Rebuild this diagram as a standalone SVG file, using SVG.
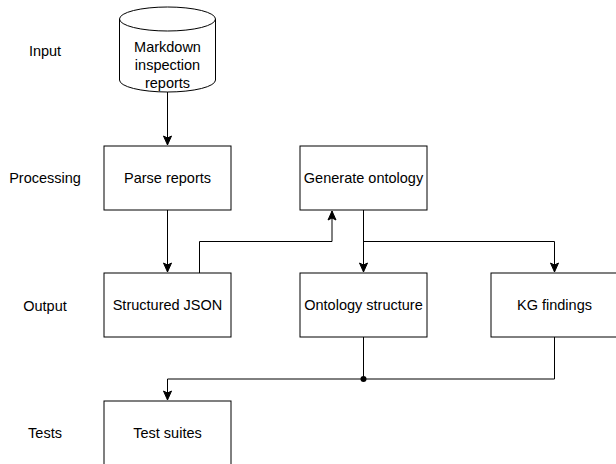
<svg xmlns="http://www.w3.org/2000/svg" width="616" height="464" viewBox="0 0 616 464">
<defs>
<style>
.box{fill:#fff;stroke:#000;stroke-width:1}
.t{font-family:"Liberation Sans",Arial,Helvetica,sans-serif;font-size:14.5px;fill:#000;text-anchor:middle}
.c{fill:none;stroke:#000;stroke-width:1}
</style>
<marker id="arr" markerUnits="userSpaceOnUse" markerWidth="12" markerHeight="12" viewBox="0 0 12 12" refX="10" refY="6" orient="auto">
<path d="M1,2 L10,6 L1,10 L3,6 Z" fill="#000" stroke="#000" stroke-width="1"/>
</marker>
</defs>
<rect width="616" height="464" fill="#fff"/>
<g id="labels">
<text class="t" x="45" y="56">Input</text>
<text class="t" x="45" y="183">Processing</text>
<text class="t" x="45" y="311">Output</text>
<text class="t" x="45" y="438">Tests</text>
</g>
<g id="connectors">
<path class="c" d="M167.5 92 V145" marker-end="url(#arr)"/>
<path class="c" d="M167.5 210 V272" marker-end="url(#arr)"/>
<path class="c" d="M199.5 273 V241.5 H332 V211" marker-end="url(#arr)"/>
<path class="c" d="M363.5 210 V272" marker-end="url(#arr)"/>
<path class="c" d="M363.5 241.5 H554.5 V272" marker-end="url(#arr)"/>
<path class="c" d="M363.5 337 V379 H167.5 V400" marker-end="url(#arr)"/>
<path class="c" d="M554.5 337 V379 H363.5"/>
<circle cx="363.5" cy="379" r="3" fill="#000"/>
</g>
<g id="markdown">
<path class="box" d="M119.5 19 A48 12 0 0 1 215.5 19 V80 A48 12 0 0 1 119.5 80 Z"/>
<path class="c" d="M119.5 19 A48 12 0 0 0 215.5 19"/>
<text class="t" x="167.5" y="52">Markdown</text>
<text class="t" x="167.5" y="70">inspection</text>
<text class="t" x="167.5" y="87.5">reports</text>
</g>
<g id="parse">
<rect class="box" x="104" y="146" width="127" height="64"/>
<text class="t" x="167.5" y="183">Parse reports</text>
</g>
<g id="generate">
<rect class="box" x="300" y="146" width="127" height="64"/>
<text class="t" x="363.5" y="183">Generate ontology</text>
</g>
<g id="json">
<rect class="box" x="104" y="273" width="127" height="64"/>
<text class="t" x="167.5" y="310">Structured JSON</text>
</g>
<g id="ontology">
<rect class="box" x="300" y="273" width="127" height="64"/>
<text class="t" x="363.5" y="310">Ontology structure</text>
</g>
<g id="kg">
<rect class="box" x="491" y="273" width="127" height="64"/>
<text class="t" x="554.5" y="310">KG findings</text>
</g>
<g id="tests">
<rect class="box" x="104" y="401" width="127" height="64"/>
<text class="t" x="167.5" y="438">Test suites</text>
</g>
</svg>
